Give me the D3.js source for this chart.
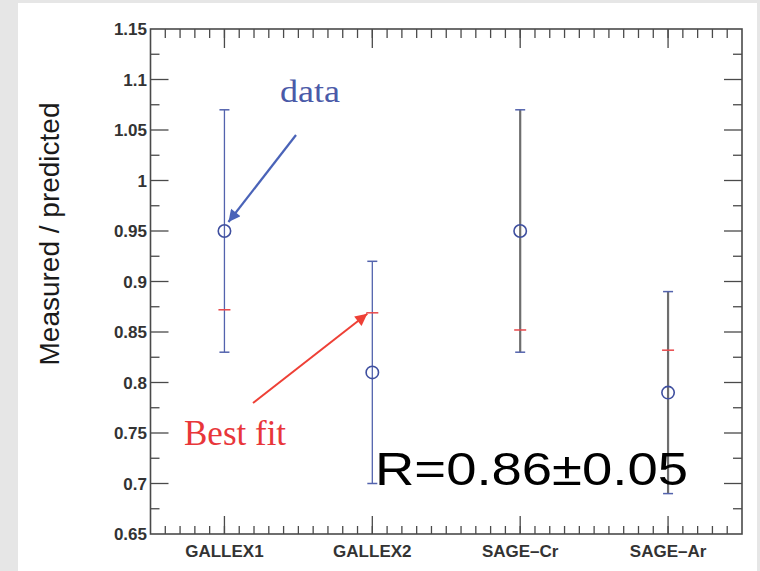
<!DOCTYPE html>
<html>
<head>
<meta charset="utf-8">
<script src="https://cdn.jsdelivr.net/npm/d3@7"></script>
<style>
  html, body { margin: 0; padding: 0; background: #e6e6e6; }
  svg { display: block; }
</style>
</head>
<body>
<svg id="chart" width="760" height="571"></svg>
<script>
// Gallium calibration experiments: measured / predicted ratios
const experiments = ["GALLEX1", "GALLEX2", "SAGE\u2013Cr", "SAGE\u2013Ar"];
const measured   = [0.95, 0.81, 0.95, 0.79];
const errLow     = [0.83, 0.70, 0.83, 0.69];
const errHigh    = [1.07, 0.92, 1.07, 0.89];
const bestFit    = [0.872, 0.869, 0.852, 0.832];
const barColors  = ["#5363ad", "#5363ad", "#6e6e6e", "#6e6e6e"];
const barWidths  = [1.3, 1.3, 2.2, 2.2];
const yTicks     = [0.65, 0.7, 0.75, 0.8, 0.85, 0.9, 0.95, 1, 1.05, 1.1, 1.15];
const yTickLabels = ["0.65", "0.7", "0.75", "0.8", "0.85", "0.9", "0.95", "1", "1.05", "1.1", "1.15"];
const resultText = "R=0.86\u00b10.05";

const svg = d3.select("#chart");

// white page area
svg.append("rect").attr("x", 18).attr("y", 3).attr("width", 739).attr("height", 568).attr("fill", "#ffffff");

const plotLeft = 150.5, plotRight = 742, plotTop = 29, plotBottom = 534;
const x = d3.scaleLinear().domain([0, experiments.length]).range([plotLeft, plotRight]);
const y = d3.scaleLinear().domain([0.65, 1.15]).range([plotBottom, plotTop]);

const axisColor = "#4a4a4a";
const g = svg.append("g");

// minor ticks along x every 0.1, major at bin centres
const xMinor = d3.range(1, experiments.length * 10).map(d => d / 10);
const xMajor = experiments.map((d, i) => i + 0.5);
const yMinor = d3.range(0, 20).map(i => 0.675 + i * 0.05).filter(v => v < 1.15);

function tickGroup(values, len, horizontal, edge, dir) {
  g.selectAll(null).data(values).enter().append("line")
    .attr("x1", d => horizontal ? x(d) : edge)
    .attr("x2", d => horizontal ? x(d) : edge + dir * len)
    .attr("y1", d => horizontal ? edge : y(d))
    .attr("y2", d => horizontal ? edge + dir * len : y(d))
    .attr("stroke", axisColor).attr("stroke-width", 1.3);
}
tickGroup(xMinor, 8, true, plotBottom, -1);
tickGroup(xMajor, 18, true, plotBottom, -1);
tickGroup(xMinor, 9, true, plotTop, 1);
tickGroup(xMajor, 19, true, plotTop, 1);
tickGroup(yTicks.slice(1, -1), 18, false, plotLeft, 1);
tickGroup(yMinor, 9, false, plotLeft, 1);
tickGroup(yTicks.slice(1, -1), 18, false, plotRight, -1);
tickGroup(yMinor, 9, false, plotRight, -1);

// frame
g.append("rect")
  .attr("x", plotLeft).attr("y", plotTop).attr("width", plotRight - plotLeft).attr("height", plotBottom - plotTop)
  .attr("fill", "none").attr("stroke", axisColor).attr("stroke-width", 1.6);

// y tick labels
g.selectAll(null).data(yTicks).enter().append("text")
  .attr("x", 147).attr("y", d => y(d) + 6)
  .attr("text-anchor", "end")
  .attr("font-family", "Liberation Sans, Arial, sans-serif")
  .attr("font-weight", "bold").attr("font-size", 17)
  .attr("fill", "#333")
  .text((d, i) => yTickLabels[i]);

// category labels
g.selectAll(null).data(experiments).enter().append("text")
  .attr("x", (d, i) => x(i + 0.5)).attr("y", 557)
  .attr("text-anchor", "middle")
  .attr("font-family", "Liberation Sans, Arial, sans-serif")
  .attr("font-weight", "bold").attr("font-size", 17)
  .attr("fill", "#333")
  .text(d => d);

// y axis title
svg.append("text")
  .attr("transform", "translate(59,234) rotate(-90)")
  .attr("text-anchor", "middle")
  .attr("font-family", "Liberation Sans, Arial, sans-serif")
  .attr("font-size", 28).attr("fill", "#1a1a1a")
  .text("Measured / predicted");

// error bars
const bars = g.selectAll(null).data(experiments).enter().append("g");
bars.append("line")
  .attr("x1", (d, i) => x(i + 0.5)).attr("x2", (d, i) => x(i + 0.5))
  .attr("y1", (d, i) => y(errHigh[i])).attr("y2", (d, i) => y(errLow[i]))
  .attr("stroke", (d, i) => barColors[i]).attr("stroke-width", (d, i) => barWidths[i]);
[errHigh, errLow].forEach(arr => {
  bars.append("line")
    .attr("x1", (d, i) => x(i + 0.5) - 5).attr("x2", (d, i) => x(i + 0.5) + 5)
    .attr("y1", (d, i) => y(arr[i])).attr("y2", (d, i) => y(arr[i]))
    .attr("stroke", "#5363ad").attr("stroke-width", 1.5);
});
// best fit marks
bars.append("line")
  .attr("x1", (d, i) => x(i + 0.5) - 6).attr("x2", (d, i) => x(i + 0.5) + 6)
  .attr("y1", (d, i) => y(bestFit[i])).attr("y2", (d, i) => y(bestFit[i]))
  .attr("stroke", "#e8474a").attr("stroke-width", 1.5);
// measured points
bars.append("circle")
  .attr("cx", (d, i) => x(i + 0.5)).attr("cy", (d, i) => y(measured[i]))
  .attr("r", 6.2)
  .attr("fill", "none").attr("stroke", "#3f4f9f").attr("stroke-width", 1.6);

// annotations
const defs = svg.append("defs");
function marker(id, color) {
  defs.append("marker").attr("id", id)
    .attr("viewBox", "0 0 10 10").attr("refX", 10).attr("refY", 5)
    .attr("markerWidth", 16).attr("markerHeight", 12).attr("markerUnits", "userSpaceOnUse")
    .attr("orient", "auto")
    .append("path").attr("d", "M0,0 L10,5 L0,10 z").attr("fill", color);
}
marker("arrowBlue", "#4a63b8");
marker("arrowRed", "#ee4036");

svg.append("text")
  .attr("x", 280).attr("y", 102)
  .attr("font-family", "Liberation Serif, Times New Roman, serif")
  .attr("font-size", 32).attr("fill", "#4a5aa8")
  .attr("textLength", 60).attr("lengthAdjust", "spacingAndGlyphs")
  .text("data");
svg.append("line")
  .attr("x1", 296).attr("y1", 135).attr("x2", x(0.5) + 4).attr("y2", y(measured[0]) - 9)
  .attr("stroke", "#4a63b8").attr("stroke-width", 2.2)
  .attr("marker-end", "url(#arrowBlue)");

svg.append("text")
  .attr("x", 184).attr("y", 445)
  .attr("font-family", "Liberation Serif, Times New Roman, serif")
  .attr("font-size", 35).attr("fill", "#e8363a")
  .text("Best fit");
svg.append("line")
  .attr("x1", 253).attr("y1", 403).attr("x2", x(1.5) - 5).attr("y2", y(bestFit[1]) + 1)
  .attr("stroke", "#ee4036").attr("stroke-width", 2)
  .attr("marker-end", "url(#arrowRed)");

svg.append("text")
  .attr("x", 375).attr("y", 485)
  .attr("font-family", "Liberation Sans, Arial, sans-serif")
  .attr("font-size", 46).attr("fill", "#000")
  .attr("textLength", 313).attr("lengthAdjust", "spacingAndGlyphs")
  .text(resultText);
</script>
</body>
</html>
